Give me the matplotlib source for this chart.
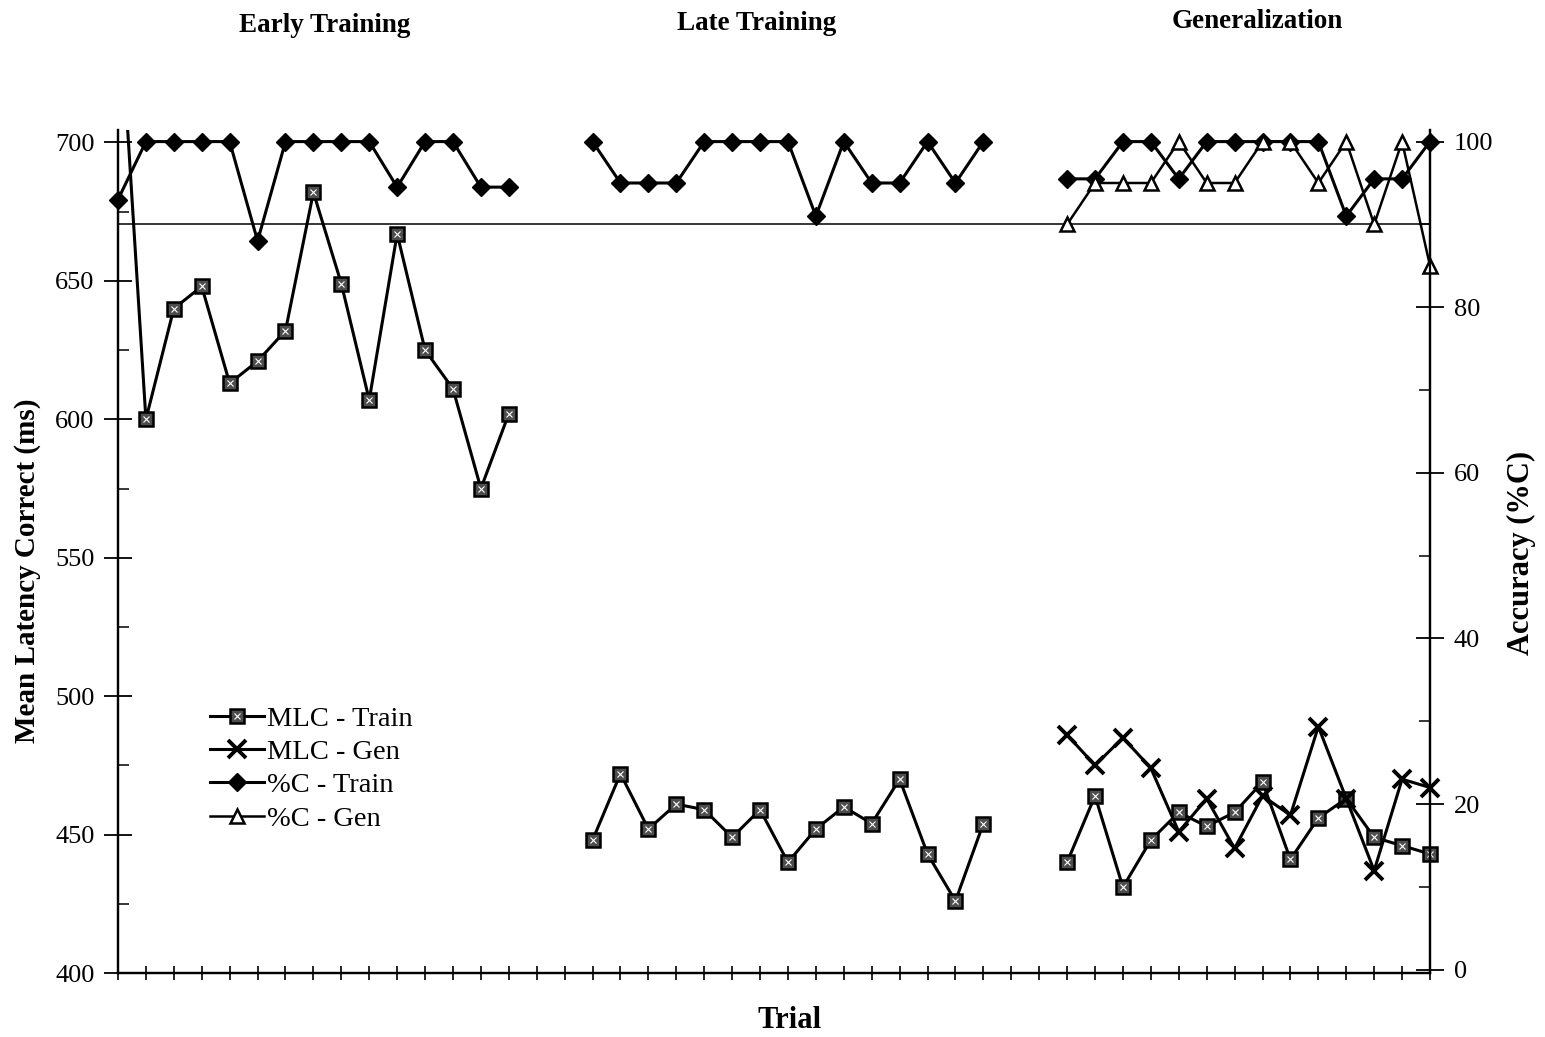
import numpy as np
import matplotlib.pyplot as plt
from matplotlib.legend_handler import HandlerTuple
from matplotlib.transforms import Bbox, TransformedBbox

plt.rcParams['font.family'] = ['Liberation Serif', 'DejaVu Serif']

# trial slots on the x axis; blocks are separated by two empty slots
n_trials = 48
early_idx = list(range(0, 15))
late_idx = list(range(17, 32))
gen_idx = list(range(34, 48))

# mean latency correct (ms), left axis
mlc_train_early = [760, 600, 640, 648, 613, 621, 632, 682, 649, 607, 667, 625, 611, 575, 602]
mlc_train_late = [448, 472, 452, 461, 459, 449, 459, 440, 452, 460, 454, 470, 443, 426, 454]
mlc_train_gen = [440, 464, 431, 448, 458, 453, 458, 469, 441, 456, 463, 449, 446, 443]
mlc_gen_gen = [486, 475, 485, 474, 451, 463, 445, 464, 457, 489, 463, 437, 470, 467]

# accuracy (%C), right axis
pc_train_early = [93, 100, 100, 100, 100, 88, 100, 100, 100, 100, 94.5, 100, 100, 94.5, 94.5]
pc_train_late = [100, 95, 95, 95, 100, 100, 100, 100, 91, 100, 95, 95, 100, 95, 100]
pc_train_gen = [95.5, 95.5, 100, 100, 95.5, 100, 100, 100, 100, 100, 91, 95.5, 95.5, 100]
pc_gen_gen = [90, 95, 95, 95, 100, 95, 95, 100, 100, 95, 100, 90, 100, 85]

criterion = 90

titles = ['Early Training', 'Late Training', 'Generalization']
labels = ['MLC - Train', 'MLC - Gen', '%C - Train', '%C - Gen']


def fill(parts):
    arr = np.full(n_trials, np.nan)
    for idx, vals in parts:
        arr[idx] = vals
    return arr


x = np.arange(n_trials)
mlc_train = fill([(early_idx, mlc_train_early), (late_idx, mlc_train_late), (gen_idx, mlc_train_gen)])
mlc_gen = fill([(gen_idx, mlc_gen_gen)])
pc_train = fill([(early_idx, pc_train_early), (late_idx, pc_train_late), (gen_idx, pc_train_gen)])
pc_gen = fill([(gen_idx, pc_gen_gen)])

W, H = 1545, 1037
fig = plt.figure(figsize=(W / 100, H / 100), dpi=100)
ax = fig.add_axes([118 / W, (H - 973) / H, (1430 - 118) / W, (973 - 130) / H])

sq, = ax.plot(x, mlc_train, color='black', lw=2.2, marker='s', ms=10,
              mfc='0.3', mec='black', mew=1.8)
sq_dots, = ax.plot(x, mlc_train, ls='none', marker='x', ms=4, mec='white', mew=0.8)
cross, = ax.plot(x, mlc_gen, color='black', lw=2.2, marker='x', ms=13, mew=2.8)

# clip latency lines only at top/bottom so end markers stay whole
clip = TransformedBbox(Bbox([[-0.05, 0], [1.05, 1]]), ax.transAxes)
for ln in (sq, sq_dots, cross):
    ln.set_clip_box(clip)

ax2 = ax.twinx()
ax2.axhline(criterion, color='black', lw=1.1, zorder=1)
dia, = ax2.plot(x, pc_train, color='black', lw=2.2, marker='D', ms=9.5,
                mfc='black', mec='black', clip_on=False)
tri, = ax2.plot(x, pc_gen, color='black', lw=1.8, marker='^', ms=10,
                mfc='white', mec='black', mew=1.8, clip_on=False)

ax.set_xlim(0, n_trials - 1)
ax.set_ylim(400, 704.5)
ax2.set_ylim(-0.4, 101.4)

ax.set_xticks(x)
ax.set_xticklabels([])
ax.tick_params(axis='x', direction='inout', length=10, width=1.2)

ax.set_yticks(np.arange(400, 701, 50))
ax.set_yticks(np.arange(425, 700, 50), minor=True)
ax.tick_params(axis='y', which='major', direction='inout', length=20, width=1.3,
               labelsize=19, pad=7)
ax.tick_params(axis='y', which='minor', direction='in', length=8, width=1.1)

ax2.set_yticks(np.arange(0, 101, 20))
ax2.set_yticks(np.arange(10, 100, 20), minor=True)
ax2.tick_params(axis='y', which='major', direction='inout', length=20, width=1.3,
                labelsize=19, pad=7)
ax2.tick_params(axis='y', which='minor', direction='in', length=8, width=1.1)

for a in (ax, ax2):
    a.spines['top'].set_visible(False)
    for s in ('left', 'right', 'bottom'):
        a.spines[s].set_linewidth(1.6)

ax2.legend([(sq, sq_dots), cross, dia, tri], labels,
           handler_map={tuple: HandlerTuple(ndivide=1)},
           loc='upper left', bbox_to_anchor=(0.07, 0.317), frameon=False,
           fontsize=20.5, handlelength=1.9, handletextpad=0.12, labelspacing=0.26,
           borderpad=0, borderaxespad=0)

# block headings
for t, cx, cy in zip(titles, [325, 757, 1257], [26, 23, 22]):
    fig.text(cx / W, 1 - cy / H, t, ha='center', va='center', fontsize=19.5, fontweight='bold')

fig.text(28 / W, 1 - 571 / H, 'Mean Latency Correct (ms)', rotation=90,
         ha='center', va='center', fontsize=21, fontweight='bold')
fig.text(1521 / W, 1 - 553 / H, 'Accuracy (%C)', rotation=90,
         ha='center', va='center', fontsize=22, fontweight='bold')
fig.text(790 / W, 1 - 1021 / H, 'Trial', ha='center', va='center',
         fontsize=22, fontweight='bold')

fig.savefig('out.png', dpi=100)
